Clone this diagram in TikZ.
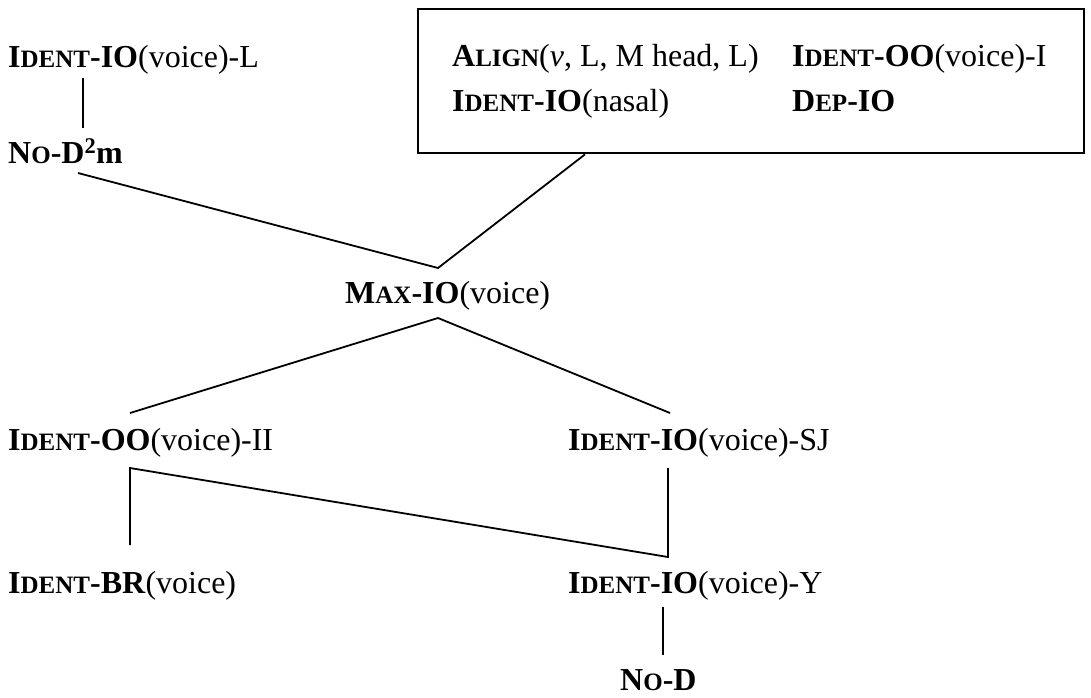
\documentclass[tikz,border=0pt]{standalone}
\usepackage{fontspec}
\setmainfont{Liberation Serif}
\usetikzlibrary{calc}
\newcommand\sml[1]{{\fontsize{25}{27}\selectfont #1}}
\begin{document}
\begin{tikzpicture}[x=1pt,y=-1pt,
  lbl/.style={inner sep=0pt, anchor=base west, font=\fontsize{32}{36}\selectfont},
  conn/.style={line width=1.8pt},
  framebox/.style={draw, line width=2.4pt, inner sep=0pt, anchor=north west, minimum width=666pt, minimum height=144pt}]
\useasboundingbox (0,0) rectangle (1091,697);
\node[framebox] (box) at (417,8) {};
\node[lbl] (idl) at (8,67) {\textbf{I\sml{DENT}-IO}(voice)-L};
\node[lbl] (nod2m) at (8,163) {\textbf{N\sml{O}-D\textsuperscript{2}m}};
\node[lbl] (align) at (452,66) {\textbf{A\sml{LIGN}}(\textit{v}, L, M head, L)};
\node[lbl] (idoo1) at (792,66) {\textbf{I\sml{DENT}-OO}(voice)-I};
\node[lbl] (idnas) at (452,111) {\textbf{I\sml{DENT}-IO}(nasal)};
\node[lbl] (dep) at (792,111) {\textbf{D\sml{EP}-IO}};
\node[lbl] (max) at (345,303) {\textbf{M\sml{AX}-IO}(voice)};
\node[lbl] (idoo2) at (8,450) {\textbf{I\sml{DENT}-OO}(voice)-II};
\node[lbl] (idsj) at (568,450) {\textbf{I\sml{DENT}-IO}(voice)-SJ};
\node[lbl] (idbr) at (8,593) {\textbf{I\sml{DENT}-BR}(voice)};
\node[lbl] (idy) at (568,593) {\textbf{I\sml{DENT}-IO}(voice)-Y};
\node[lbl] (nod) at (620,690) {\textbf{N\sml{O}-D}};
\draw[conn] ($(idl.base west)+(75,11)$) -- ($(nod2m.base west)+(75,-35)$);
\draw[conn] ($(nod2m.base west)+(70,10)$) -- ($(max.base west)+(93,-35)$)
  -- ($(box.south west)+(168,0)$);
\draw[conn] ($(idoo2.base west)+(122,-37)$) -- ($(max.base west)+(93,15)$)
  -- ($(idsj.base west)+(102,-37)$);
\draw[conn] ($(idbr.base west)+(122,-48)$) -- ($(idoo2.base west)+(122,18)$)
  -- ($(idy.base west)+(100,-36)$) -- ($(idsj.base west)+(100,18)$);
\draw[conn] ($(idy.base west)+(95,14)$) -- ($(nod.base west)+(43,-35)$);
\end{tikzpicture}
\end{document}
